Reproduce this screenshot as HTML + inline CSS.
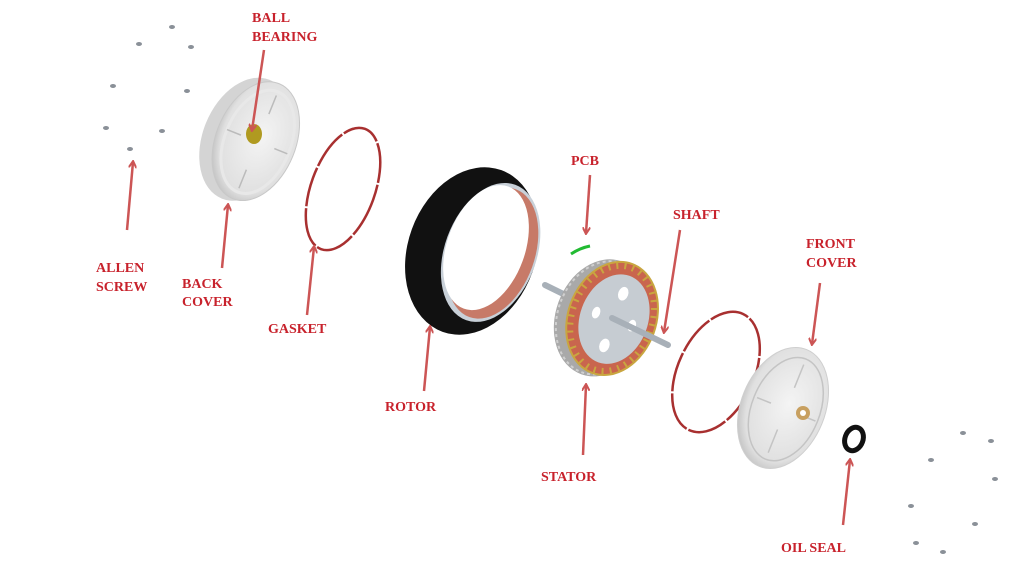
<!DOCTYPE html>
<html><head><style>
html,body{margin:0;padding:0;background:#fff;}
svg{display:block}
text{font-family:"Liberation Serif",serif;font-weight:bold;font-size:14px;fill:#c8222c;}
</style></head><body>
<svg width="1024" height="578" viewBox="0 0 1024 578" xmlns="http://www.w3.org/2000/svg">
<defs>
<marker id="ah" markerWidth="8" markerHeight="8" refX="6" refY="4" orient="auto" markerUnits="userSpaceOnUse">
<path d="M0,0 L7,4 L0,8" fill="none" stroke="#cc5555" stroke-width="2"/>
</marker>
<radialGradient id="cov" cx="0.55" cy="0.45" r="0.6"><stop offset="0" stop-color="#f4f4f4"/><stop offset="0.8" stop-color="#e0e0e0"/><stop offset="1" stop-color="#bdbdbd"/></radialGradient>
</defs>
<g fill="#8a9098">
<ellipse cx="172" cy="27" rx="3" ry="2"/><ellipse cx="139" cy="44" rx="3" ry="2"/><ellipse cx="191" cy="47" rx="3" ry="2"/>
<ellipse cx="113" cy="86" rx="3" ry="2"/><ellipse cx="187" cy="91" rx="3" ry="2"/><ellipse cx="106" cy="128" rx="3" ry="2"/>
<ellipse cx="162" cy="131" rx="3" ry="2"/><ellipse cx="130" cy="149" rx="3" ry="2"/>
<ellipse cx="963" cy="433" rx="3" ry="2"/><ellipse cx="991" cy="441" rx="3" ry="2"/><ellipse cx="931" cy="460" rx="3" ry="2"/>
<ellipse cx="995" cy="479" rx="3" ry="2"/><ellipse cx="911" cy="506" rx="3" ry="2"/><ellipse cx="975" cy="524" rx="3" ry="2"/>
<ellipse cx="916" cy="543" rx="3" ry="2"/><ellipse cx="943" cy="552" rx="3" ry="2"/>
</g>
<!-- back cover -->
<g transform="rotate(22 253 140)">
<ellipse cx="246" cy="142" rx="43" ry="64" fill="#d4d4d4"/>
<ellipse cx="256" cy="140" rx="40" ry="62" fill="url(#cov)" stroke="#c8c8c8"/>
<ellipse cx="258" cy="140" rx="33" ry="54" fill="none" stroke="#e8e8e8" stroke-width="3"/>
<g stroke="#bbb" stroke-width="1.5">
<line x1="258" y1="90" x2="258" y2="110"/><line x1="258" y1="170" x2="258" y2="190"/>
<line x1="225" y1="140" x2="240" y2="140"/><line x1="276" y1="140" x2="290" y2="140"/>
</g>
</g>
<ellipse cx="254" cy="134" rx="8" ry="10" fill="#b09a20"/>
<!-- gasket 1 -->
<ellipse cx="343" cy="189" rx="32" ry="64" transform="rotate(20 343 189)" fill="none" stroke="#a83030" stroke-width="2.5" stroke-dasharray="40 2"/>
<!-- rotor -->
<g transform="rotate(20 472 251)">
<ellipse cx="472" cy="251" rx="64" ry="86" fill="#111"/>
<ellipse cx="490" cy="246" rx="46" ry="72" fill="#c8d0d8"/>
<ellipse cx="492" cy="246" rx="42" ry="68" fill="#c77a68"/>
<ellipse cx="484" cy="243" rx="39" ry="65" fill="#fff"/>
</g>
<!-- PCB -->
<path d="M571 254 Q580 248 590 246" fill="none" stroke="#22bb33" stroke-width="3"/>
<!-- stator + shaft -->
<line x1="545" y1="285" x2="600" y2="312" stroke="#a8b0b8" stroke-width="6" stroke-linecap="round"/>
<g transform="rotate(20 608 318)">
<ellipse cx="602" cy="320" rx="46" ry="60" fill="#a9a9a9"/>
<ellipse cx="602" cy="320" rx="44" ry="58" fill="none" stroke="#d0d0d0" stroke-width="2" stroke-dasharray="3 3"/>
<ellipse cx="612" cy="317" rx="44" ry="58" fill="#c9654e" stroke="#c9a640" stroke-width="2"/>
<ellipse cx="612" cy="317" rx="40" ry="54" fill="none" stroke="#c9a640" stroke-width="6" stroke-dasharray="2 6"/>
<ellipse cx="614" cy="317" rx="34" ry="46" fill="#c6ccd2"/>
<g fill="#fff"><ellipse cx="614" cy="290" rx="5" ry="7"/><ellipse cx="614" cy="345" rx="5" ry="7"/><ellipse cx="595" cy="317" rx="4" ry="6"/><ellipse cx="633" cy="317" rx="4" ry="6"/></g>
</g>
<line x1="612" y1="318" x2="668" y2="345" stroke="#a8b0b8" stroke-width="6" stroke-linecap="round"/>
<!-- gasket 2 -->
<ellipse cx="716" cy="372" rx="38" ry="64" transform="rotate(25 716 372)" fill="none" stroke="#a83030" stroke-width="2.5" stroke-dasharray="40 2"/>
<!-- front cover -->
<g transform="rotate(22 783 408)">
<ellipse cx="783" cy="408" rx="42" ry="63" fill="url(#cov)" stroke="#cfcfcf"/>
<g stroke="#c4c4c4" stroke-width="1.5" fill="none">
<ellipse cx="786" cy="408" rx="34" ry="54"/>
<line x1="786" y1="360" x2="786" y2="385"/><line x1="786" y1="430" x2="786" y2="455"/>
<line x1="755" y1="408" x2="770" y2="408"/><line x1="802" y1="408" x2="818" y2="408"/>
</g>
</g>
<circle cx="803" cy="413" r="7" fill="#c8a060"/>
<circle cx="803" cy="413" r="3" fill="#fff"/>
<!-- oil seal -->
<ellipse cx="854" cy="439" rx="9" ry="12" transform="rotate(20 854 439)" fill="none" stroke="#111" stroke-width="5"/>
<!-- arrows -->
<g stroke="#cc5555" stroke-width="2.5" marker-end="url(#ah)">
<line x1="264" y1="50" x2="252" y2="130"/>
<line x1="127" y1="230" x2="133" y2="162"/>
<line x1="222" y1="268" x2="228" y2="205"/>
<line x1="307" y1="315" x2="314" y2="247"/>
<line x1="424" y1="391" x2="430" y2="327"/>
<line x1="590" y1="175" x2="586" y2="233"/>
<line x1="680" y1="230" x2="664" y2="332"/>
<line x1="820" y1="283" x2="812" y2="344"/>
<line x1="583" y1="455" x2="586" y2="385"/>
<line x1="843" y1="525" x2="850" y2="460"/>
</g>
<text x="252" y="22">BALL</text><text x="252" y="41">BEARING</text>
<text x="96" y="272">ALLEN</text><text x="96" y="291">SCREW</text>
<text x="182" y="288">BACK</text><text x="182" y="306">COVER</text>
<text x="268" y="333">GASKET</text>
<text x="385" y="411">ROTOR</text>
<text x="571" y="165">PCB</text>
<text x="673" y="219">SHAFT</text>
<text x="806" y="248">FRONT</text><text x="806" y="267">COVER</text>
<text x="541" y="481">STATOR</text>
<text x="781" y="552">OIL SEAL</text>
</svg>
</body></html>
